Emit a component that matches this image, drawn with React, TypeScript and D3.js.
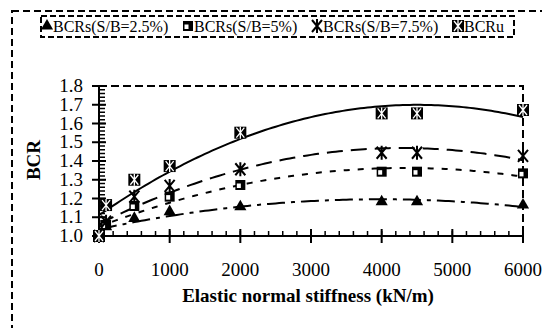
import * as d3 from "d3";
import React from "react";

/* ------------------------------------------------------------------ */
/*  Data                                      */
/* ------------------------------------------------------------------ */

const STIFFNESS = [0, 100, 500, 1000, 2000, 4000, 4500, 6000];
const BCRS_25 = [1.0, 1.05, 1.094, 1.13, 1.156, 1.183, 1.183, 1.165];
const BCRS_5 = [1.0, 1.059, 1.16, 1.21, 1.272, 1.343, 1.343, 1.334];
const BCRS_75 = [1.0, 1.076, 1.21, 1.267, 1.356, 1.444, 1.444, 1.427];
const BCRU = [1.0, 1.165, 1.3, 1.373, 1.551, 1.654, 1.654, 1.672];

const SERIES_LABELS = [
  "BCRs(S/B=2.5%)",
  "BCRs(S/B=5%)",
  "BCRs(S/B=7.5%)",
  "BCRu",
];

const X_TITLE = "Elastic normal stiffness (kN/m)";
const Y_TITLE = "BCR";

/* ------------------------------------------------------------------ */
/*  Theme                                                              */
/* ------------------------------------------------------------------ */

const INK = "#000";
const FONT = "'Liberation Serif', 'Times New Roman', serif";
const W = 542;
const H = 328;

/* least-squares quadratic (Excel "polynomial, order 2" trendline) */
function fitQuadratic(xs: number[], ys: number[]) {
  const s = xs.map((v) => v / 1000);
  const sum = (f: (i: number) => number) => d3.sum(s.map((_, i) => f(i)));
  const M = [
    [s.length, sum((i) => s[i]), sum((i) => s[i] ** 2), sum((i) => ys[i])],
    [sum((i) => s[i]), sum((i) => s[i] ** 2), sum((i) => s[i] ** 3), sum((i) => s[i] * ys[i])],
    [sum((i) => s[i] ** 2), sum((i) => s[i] ** 3), sum((i) => s[i] ** 4), sum((i) => s[i] ** 2 * ys[i])],
  ];
  for (let c = 0; c < 3; c++) {
    for (let r = c + 1; r < 3; r++) {
      const k = M[r][c] / M[c][c];
      for (let j = c; j < 4; j++) M[r][j] -= k * M[c][j];
    }
  }
  const coef = [0, 0, 0];
  for (let r = 2; r >= 0; r--) {
    let v = M[r][3];
    for (let j = r + 1; j < 3; j++) v -= M[r][j] * coef[j];
    coef[r] = v / M[r][r];
  }
  return (x: number) => {
    const t = x / 1000;
    return coef[0] + coef[1] * t + coef[2] * t * t;
  };
}

type Series = {
  label: string;
  values: number[];
  dash: string;
  marker: "triangle" | "square" | "star" | "hatch";
};

const SERIES: Series[] = [
  { label: SERIES_LABELS[0], values: BCRS_25, dash: "18,6,4,6", marker: "triangle" },
  { label: SERIES_LABELS[1], values: BCRS_5, dash: "6,8", marker: "square" },
  { label: SERIES_LABELS[2], values: BCRS_75, dash: "16,8", marker: "star" },
  { label: SERIES_LABELS[3], values: BCRU, dash: "none", marker: "hatch" },
];

function Marker({ kind, x, y }: { kind: Series["marker"]; x: number; y: number }) {
  const t = `translate(${x},${y})`;
  if (kind === "triangle")
    return <path transform={t} d={d3.symbol(d3.symbolTriangle, 64)() ?? ""} fill={INK} />;
  if (kind === "square")
    return (
      <g transform={t}>
        <rect x={-5} y={-5} width={10} height={10} fill={INK} />
        <rect x={-3.5} y={-1.5} width={4} height={4.5} fill="#fff" />
      </g>
    );
  if (kind === "star")
    return (
      <path
        transform={t}
        d="M-5,-6L5,6M5,-6L-5,6M0,-7L0,7"
        stroke={INK}
        strokeWidth={2}
        fill="none"
      />
    );
  return (
    <g transform={t}>
      <rect x={-6} y={-6} width={12} height={12} fill={INK} />
      <path d="M-4,-5L4,5M4,-5L-4,5M0,-6L0,6" stroke="#fff" strokeWidth={1.3} />
    </g>
  );
}

/* ------------------------------------------------------------------ */
/*  Component                                                          */
/* ------------------------------------------------------------------ */

export default function App() {
  const x = d3.scaleLinear().domain([0, 6000]).range([99, 523]);
  const y = d3.scaleLinear().domain([1.0, 1.8]).range([236, 86]);

  const xMajor = x.ticks(6);
  const xMinor = d3.range(0, 6001, 200);
  const yMajor = y.ticks(8);
  const yMinor = y.ticks(40);

  const [x0, x1] = x.range();
  const [yb, yt] = y.range();

  const samples = d3.range(0, 6001, 50);
  const legendX = [44, 185, 314, 455];

  return (
    <svg
      width={W}
      height={H}
      style={{ position: "absolute", left: 0, top: 0, background: "#fff" }}
      fontFamily={FONT}
    >
      {/* outer dashed frame */}
      <rect
        x={12}
        y={11}
        width={700}
        height={500}
        fill="none"
        stroke={INK}
        strokeWidth={2}
        strokeDasharray="7,4"
      />

      {/* legend */}
      <rect
        x={41}
        y={16}
        width={473}
        height={21}
        fill="#fff"
        stroke={INK}
        strokeWidth={2}
        strokeDasharray="6,3"
      />
      {SERIES.map((s, i) => (
        <g key={s.label}>
          <Marker kind={s.marker} x={legendX[i] + 3} y={26} />
          <text x={legendX[i] + 9} y={31.5} fontSize={16} fill={INK}>
            {s.label}
          </text>
        </g>
      ))}

      {/* plot frame: dashed top and right */}
      <path
        d={`M${x0},${yt}H${x1}V${yb}`}
        fill="none"
        stroke={INK}
        strokeWidth={2}
        strokeDasharray="8,4"
      />

      {/* y axis */}
      <line x1={x0} x2={x0} y1={yt} y2={yb} stroke={INK} strokeWidth={2} />
      {yMinor.map((v) => (
        <line key={`ym${v}`} x1={x0} x2={x0 + 6} y1={y(v)} y2={y(v)} stroke={INK} strokeWidth={1.5} />
      ))}
      {yMajor.map((v) => (
        <g key={`yM${v}`}>
          <line x1={x0 - 7} x2={x0 + 7} y1={y(v)} y2={y(v)} stroke={INK} strokeWidth={2} />
          <text x={83} y={y(v) + 6} fontSize={19} textAnchor="end" fill={INK}>
            {d3.format(".1f")(v)}
          </text>
        </g>
      ))}

      {/* x axis */}
      <line x1={x0} x2={x1} y1={yb} y2={yb} stroke={INK} strokeWidth={2} />
      {xMinor.map((v) => (
        <line key={`xm${v}`} x1={x(v)} x2={x(v)} y1={yb - 5} y2={yb} stroke={INK} strokeWidth={1.5} />
      ))}
      {xMajor.map((v) => (
        <g key={`xM${v}`}>
          <line x1={x(v)} x2={x(v)} y1={yb - 7} y2={yb + 7} stroke={INK} strokeWidth={2} />
          <text x={x(v)} y={276} fontSize={19} textAnchor="middle" fill={INK}>
            {v}
          </text>
        </g>
      ))}

      {/* axis titles */}
      <text x={308} y={302} fontSize={19} fontWeight="bold" textAnchor="middle" fill={INK}>
        {X_TITLE}
      </text>
      <text
        transform="translate(40,160) rotate(-90)"
        fontSize={19}
        fontWeight="bold"
        textAnchor="middle"
        fill={INK}
      >
        {Y_TITLE}
      </text>

      {/* trendlines */}
      {SERIES.map((s) => {
        const f = fitQuadratic(STIFFNESS, s.values);
        const path = d3
          .line<number>()
          .x((d) => x(d))
          .y((d) => y(f(d)))(samples);
        return (
          <path
            key={`t${s.label}`}
            d={path ?? ""}
            fill="none"
            stroke={INK}
            strokeWidth={2}
            strokeDasharray={s.dash}
          />
        );
      })}

      {/* markers */}
      {SERIES.map((s) =>
        s.values.map((v, i) => (
          <Marker key={`${s.label}${i}`} kind={s.marker} x={x(STIFFNESS[i])} y={y(v)} />
        )),
      )}
    </svg>
  );
}
